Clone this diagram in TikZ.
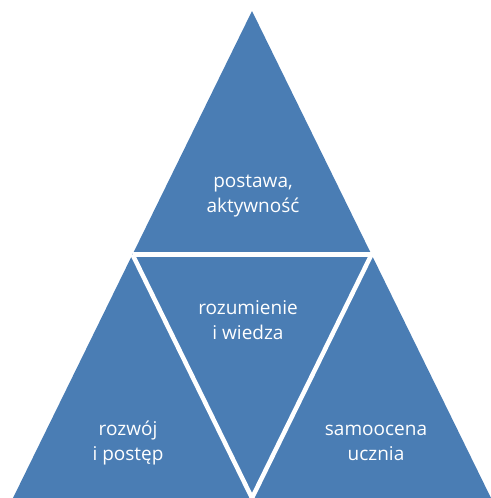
\documentclass[tikz,border=0pt]{standalone}
\usepackage{fontspec}
\setmainfont{Open Sans}
\usetikzlibrary{calc}
\definecolor{pyrblue}{RGB}{74,125,180}
\tikzset{
  pyrlabel/.style={text=white,align=center,font=\fontsize{19}{25}\selectfont,inner sep=0pt},
  gap/.style={draw=white,line width=4.5pt}
}
\begin{document}
\begin{tikzpicture}[x=1pt,y=-1pt]
    \useasboundingbox (0,0) rectangle (490,498);
    % corners of the big triangle
    \coordinate (top) at (252,11);
    \coordinate (bl) at (13,498);
    \coordinate (br) at (491,498);
    % midpoints of the sides
    \coordinate (ml) at ($(top)!0.5!(bl)$);
    \coordinate (mr) at ($(top)!0.5!(br)$);
    \coordinate (mb) at ($(bl)!0.5!(br)$);
    \fill[pyrblue] (top) -- (bl) -- (br) -- cycle;
    \draw[gap] (ml) -- (mr);
    \draw[gap] (ml) -- (mb) -- (mr);
    \node[pyrlabel] (postawa) at (253,196) {postawa,\\aktywność};
    \node[pyrlabel] (wiedza) at (248,320) {rozumienie\\i wiedza};
    \node[pyrlabel] (rozwoj) at (128,443) {rozwój\\i postęp};
    \node[pyrlabel] (uczen) at (376,443) {samoocena\\ucznia};
  \end{tikzpicture}
\end{document}
